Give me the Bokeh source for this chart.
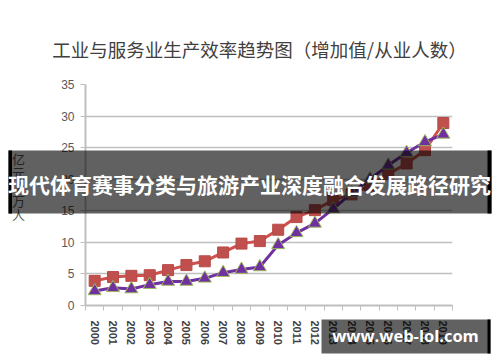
from bokeh.plotting import figure
from bokeh.models import Range1d, FixedTicker, Label, BoxAnnotation
from bokeh.embed import file_html
from bokeh.resources import INLINE

years = list(range(2000, 2020))
industry = [3.9, 4.5, 4.7, 4.8, 5.6, 6.4, 7.0, 8.4, 9.8, 10.2, 12.0, 14.0, 15.1, 16.7, 17.6, 19.0, 20.8, 22.5, 24.6, 28.9]
service = [2.3, 2.8, 2.6, 3.3, 3.8, 3.8, 4.3, 5.2, 5.7, 6.1, 9.6, 11.5, 13.0, 15.3, 17.8, 20.0, 22.2, 24.2, 25.9, 27.1]
y_ticks = [0, 5, 10, 15, 20, 25, 30, 35]
title_text = "工业与服务业生产效率趋势图（增加值/从业人数）"
y_label_chars = ["亿", "元", "/", "万", "人"]
banner_text = "现代体育赛事分类与旅游产业深度融合发展路径研究"
mark_text = "www.web-lol.com"

W, H = 500, 362
p = figure(width=W, height=H, output_backend="svg", toolbar_location=None,
           x_range=Range1d(1999.5, 2019.5), y_range=Range1d(0, 35),
           min_border_left=85, min_border_right=48, min_border_top=84, min_border_bottom=57)
p.outline_line_color = None
p.background_fill_color = "white"
p.border_fill_color = "white"
p.xgrid.visible = False
p.ygrid.grid_line_color = "#BFBFBF"
p.ygrid.grid_line_width = 1.5

p.yaxis.ticker = FixedTicker(ticks=y_ticks)
p.yaxis.axis_line_color = "#BFBFBF"
p.yaxis.axis_line_width = 2
p.yaxis.major_tick_line_color = "#BFBFBF"
p.yaxis.major_tick_out = 5
p.yaxis.major_tick_in = 0
p.yaxis.minor_tick_line_color = None
p.yaxis.major_label_text_font = "Liberation Sans"
p.yaxis.major_label_text_font_size = "12px"
p.yaxis.major_label_text_color = "#595959"
p.yaxis.major_label_standoff = 6

p.xaxis.ticker = FixedTicker(ticks=years, minor_ticks=[y - 0.5 for y in years] + [years[-1] + 0.5])
p.xaxis.axis_line_color = "#BFBFBF"
p.xaxis.axis_line_width = 2
p.xaxis.major_tick_line_color = None
p.xaxis.minor_tick_line_color = "#BFBFBF"
p.xaxis.minor_tick_out = 5
p.xaxis.minor_tick_in = 0
p.xaxis.major_label_orientation = "vertical"
p.xaxis.major_label_text_font = "Liberation Sans"
p.xaxis.major_label_text_font_size = "11px"
p.xaxis.major_label_text_font_style = "bold"
p.xaxis.major_label_text_color = "#404040"
p.xaxis.major_label_standoff = 9

p.line(years, industry, line_color="#D0504D", line_width=3)
p.scatter(years, industry, marker="square", size=11, fill_color="#C0504D", line_color="#B84A47")
p.line(years, service, line_color="#7030A0", line_width=3)
p.scatter(years, service, marker="triangle", size=13, fill_color="#7030A0", line_color="#9BBB59", line_width=1)

# overlay figure (separate root, so its frame is the whole canvas and nothing is clipped)
q = figure(width=W, height=H, output_backend="svg", toolbar_location=None,
           x_axis_location=None, y_axis_location=None,
           min_border_left=0, min_border_right=0, min_border_top=0, min_border_bottom=0)
q.outline_line_color = None
q.background_fill_alpha = 0
q.border_fill_alpha = 0
q.grid.visible = False
q.styles = {"margin-top": f"-{H}px"}

def box(l, r, t, b, alpha):
    q.add_layout(BoxAnnotation(left=l, right=r, top=t, bottom=b,
                               left_units="canvas", right_units="canvas", top_units="canvas", bottom_units="canvas",
                               fill_color="black", fill_alpha=alpha, line_color=None))

q.add_layout(Label(x=259, y=48, x_units="canvas", y_units="canvas", text=title_text,
                   text_align="center", text_baseline="middle", text_font="Noto Sans CJK SC",
                   text_font_size="18.5px", text_color="#404040"))
for i, ch in enumerate(y_label_chars):
    q.add_layout(Label(x=18, y=158 + i * 14, x_units="canvas", y_units="canvas", text=ch,
                       text_align="center", text_baseline="middle", text_font="Noto Sans CJK SC",
                       text_font_size="13px", text_color="#595959"))

box(8, 491, 150, 213, 0.62)
box(8, 11.5, 150, 213, 1)
box(487, 491, 150, 213, 1)
q.add_layout(Label(x=249, y=183, x_units="canvas", y_units="canvas", text=banner_text,
                   text_align="center", text_baseline="middle", text_font="Noto Sans CJK SC",
                   text_font_size="21px", text_font_style="bold", text_color="white"))

box(321, 490, 319, 353, 0.62)
box(487, 490, 319, 353, 1)
q.add_layout(Label(x=405, y=335, x_units="canvas", y_units="canvas", text=mark_text,
                   text_align="center", text_baseline="middle", text_font="Open Sans",
                   text_font_size="16.5px", text_font_style="bold", text_color="white"))

open("out.html", "w").write(file_html([p, q], INLINE))
